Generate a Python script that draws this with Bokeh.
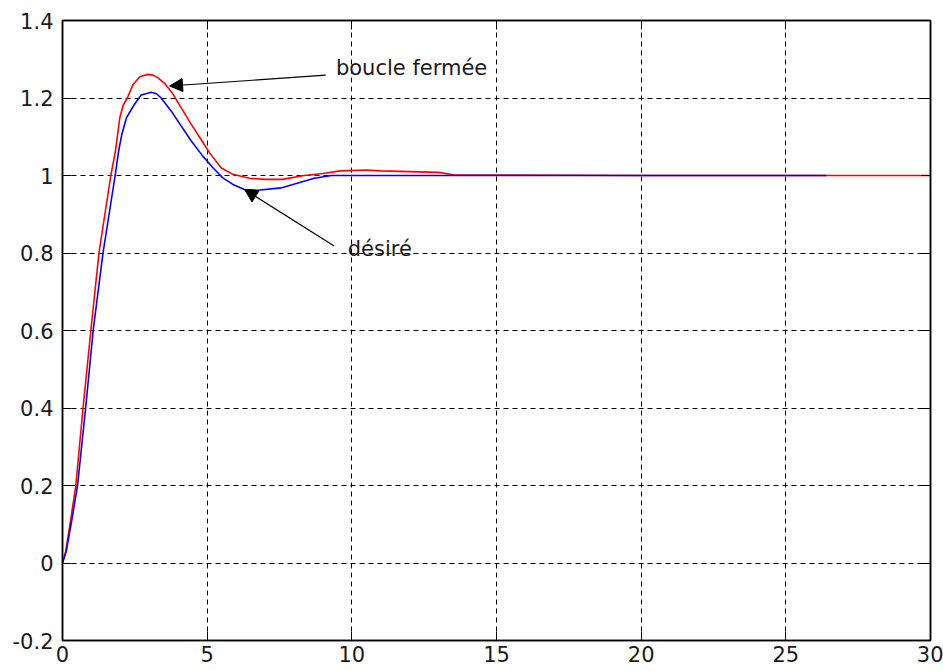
from bokeh.plotting import figure
from bokeh.models import Range1d, FixedTicker, LinearAxis, Arrow, NormalHead, Label
from bokeh.embed import file_html
from bokeh.resources import INLINE

# --- data ---
t_red = [0, 0.11, 0.28, 0.46, 0.71, 0.98, 1.26, 1.67, 1.83, 1.98, 2.1, 2.24, 2.44, 2.67,
         2.95, 3.13, 3.3, 3.53, 3.82, 4.10, 4.45, 4.79, 5.08, 5.48, 5.89, 6.46, 7.0, 7.6,
         8.35, 9.0, 9.6, 10.5, 11.0, 13.0, 13.5, 20.0, 30.0]
y_red = [0, 0.03, 0.11, 0.2, 0.4, 0.6, 0.8, 1.0, 1.063, 1.149, 1.182, 1.2, 1.235, 1.255,
         1.261, 1.259, 1.252, 1.238, 1.210, 1.175, 1.132, 1.093, 1.059, 1.020, 1.003, 0.993,
         0.99, 0.99, 1.0, 1.005, 1.012, 1.014, 1.012, 1.008, 1.002, 1.0, 1.0]

t_blue = [0, 0.13, 0.32, 0.52, 0.8, 1.06, 1.40, 1.82, 1.94, 2.05, 2.21, 2.49, 2.72, 3.07,
          3.25, 3.41, 3.76, 4.10, 4.45, 4.85, 5.20, 5.54, 5.89, 6.29, 6.75, 7.55, 8.2,
          8.7, 9.3, 26.4]
y_blue = [0, 0.03, 0.11, 0.2, 0.4, 0.6, 0.8, 1.0, 1.063, 1.106, 1.149, 1.184, 1.208,
          1.215, 1.211, 1.200, 1.166, 1.128, 1.089, 1.050, 1.020, 0.994, 0.977, 0.964,
          0.962, 0.968, 0.982, 0.993, 1.0, 1.0]

x_ticks = [0, 5, 10, 15, 20, 25, 30]
y_ticks = [-0.2, 0, 0.2, 0.4, 0.6, 0.8, 1, 1.2, 1.4]
y_tick_labels = ["-0.2", "0", "0.2", "0.4", "0.6", "0.8", "1", "1.2", "1.4"]

label_red = "boucle  fermée"
label_blue = "désiré"
# annotation anchors (data units): text position, arrow start, arrow tip
red_text_xy = (9.45, 1.278)
red_arrow = (9.10, 1.259, 3.70, 1.231)
blue_text_xy = (9.86, 0.81)
blue_arrow = (9.39, 0.818, 6.29, 0.964)

FONT = "DejaVu Sans"
FS = "21px"

p = figure(width=943, height=671, x_range=Range1d(0, 30), y_range=Range1d(-0.2, 1.4),
           output_backend="svg", toolbar_location=None,
           min_border_left=62, min_border_right=13, min_border_top=20, min_border_bottom=31)
p.background_fill_color = "white"
p.border_fill_color = "white"
p.outline_line_color = "black"
p.outline_line_width = 1.5

for ax in (p.xaxis[0], p.yaxis[0]):
    ax.axis_line_color = "black"
    ax.axis_line_width = 1.5
    ax.major_tick_in = 9
    ax.major_tick_out = 0
    ax.minor_tick_line_color = None
    ax.major_tick_line_color = "black"
    ax.major_label_text_font = FONT
    ax.major_label_text_font_size = FS
    ax.major_label_text_color = "#1a1a1a"

p.xaxis[0].ticker = FixedTicker(ticks=x_ticks)
p.yaxis[0].ticker = FixedTicker(ticks=y_ticks)
p.yaxis[0].major_label_overrides = {v: s for v, s in zip(y_ticks, y_tick_labels)}
p.xaxis[0].major_label_standoff = 5
p.yaxis[0].major_label_standoff = 9

# box axes on the right and top: inward ticks, no labels drawn
for loc, tk in (("right", y_ticks), ("above", x_ticks)):
    ax = LinearAxis(ticker=FixedTicker(ticks=tk), major_label_text_font_size="1px",
                    major_label_text_color=None,
                    major_label_standoff=0, major_tick_in=9, major_tick_out=0,
                    minor_tick_line_color=None, axis_line_color="black", axis_line_width=1.5)
    p.add_layout(ax, loc)

p.xgrid.ticker = FixedTicker(ticks=x_ticks)
p.ygrid.ticker = FixedTicker(ticks=y_ticks)
for g in (p.xgrid[0], p.ygrid[0]):
    g.grid_line_color = "black"
    g.grid_line_alpha = 1.0
    g.grid_line_width = 1
    g.grid_line_dash = "5 4"

p.line(t_red, y_red, line_color="#ff0000", line_width=1.6)
p.line(t_blue, y_blue, line_color="#0000ff", line_width=1.6)

for (xa, ya, xb, yb) in (red_arrow, blue_arrow):
    p.add_layout(Arrow(end=NormalHead(size=13, fill_color="black", line_color="black"),
                       x_start=xa, y_start=ya, x_end=xb, y_end=yb,
                       line_color="black", line_width=1.2))

p.add_layout(Label(x=red_text_xy[0], y=red_text_xy[1], text=label_red,
                   text_font=FONT, text_font_size=FS, text_color="#1a1a1a",
                   text_baseline="alphabetic"))
p.add_layout(Label(x=blue_text_xy[0], y=blue_text_xy[1], text=label_blue,
                   text_font=FONT, text_font_size=FS, text_color="#1a1a1a",
                   text_baseline="alphabetic"))

open("out.html", "w").write(file_html(p, INLINE))
